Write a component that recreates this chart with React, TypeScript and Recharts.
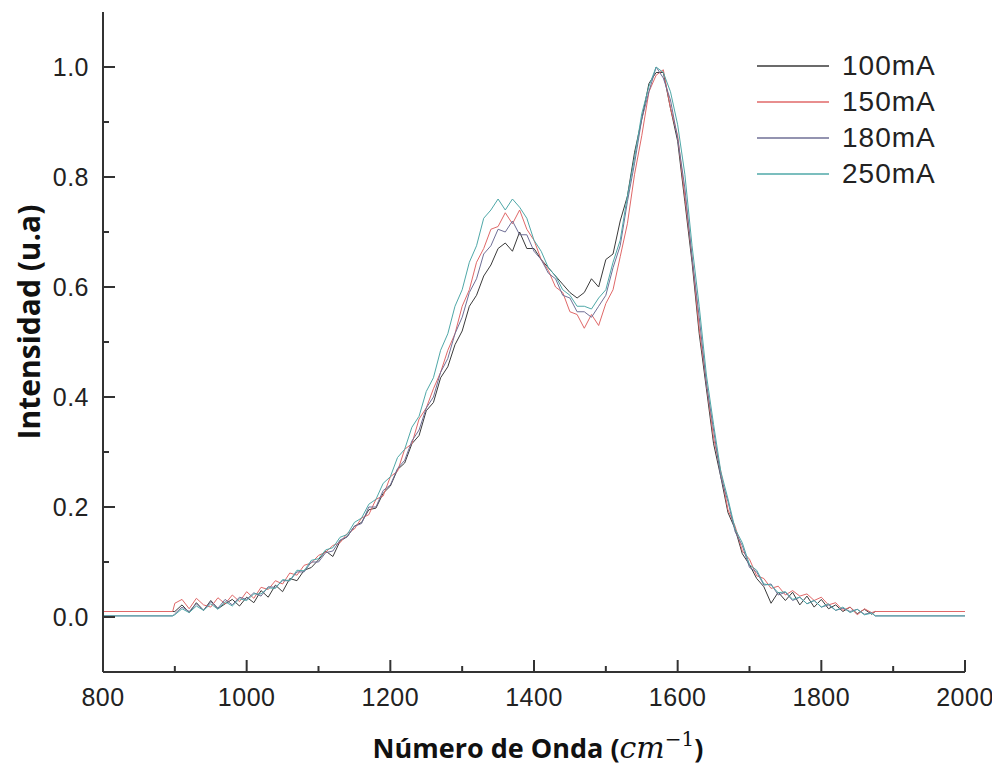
import React from 'react';
import { LineChart, Line, XAxis, YAxis, Legend } from 'recharts';

// Raman spectra, normalised intensity sampled every 10 cm-1 from 900 to 1870
const rangeStart = 900;
const rangeEnd = 1870;
const wavenumbers = Array.from({ length: 98 }, (_, i) => rangeStart + i * 10);

const seriesNames = ['100mA', '150mA', '180mA', '250mA'];
const seriesColors = ['#3a3a3a', '#e06868', '#6f6f96', '#4fa8a8'];
// level of the flat parts outside the measured range
const flatLevels = [0.01, 0.01, 0.002, 0.002];

const i100 = [
  0.01, 0.022, 0.008, 0.026, 0.012, 0.03, 0.015, 0.024, 0.032, 0.02,
  0.036, 0.026, 0.048, 0.036, 0.058, 0.046, 0.07, 0.066, 0.085, 0.09,
  0.104, 0.12, 0.11, 0.138, 0.146, 0.165, 0.172, 0.195, 0.198, 0.225,
  0.238, 0.268, 0.28, 0.315, 0.33, 0.375, 0.39, 0.435, 0.455, 0.495,
  0.52, 0.565, 0.585, 0.62, 0.64, 0.67, 0.68, 0.665, 0.7, 0.67,
  0.67, 0.65, 0.635, 0.62, 0.605, 0.59, 0.58, 0.59, 0.615, 0.6,
  0.65, 0.66, 0.72, 0.765, 0.845, 0.905, 0.97, 0.99, 0.99, 0.925,
  0.865, 0.755, 0.645, 0.515, 0.415, 0.315, 0.255, 0.19, 0.16, 0.115,
  0.095, 0.07, 0.055, 0.025, 0.045, 0.03, 0.045, 0.022, 0.038, 0.018,
  0.032, 0.015, 0.022, 0.01, 0.018, 0.006, 0.014, 0.005,
];

const i150 = [
  0.025, 0.032, 0.015, 0.034, 0.022, 0.018, 0.035, 0.024, 0.04, 0.028,
  0.046, 0.034, 0.054, 0.05, 0.066, 0.06, 0.08, 0.076, 0.094, 0.098,
  0.112, 0.118, 0.13, 0.135, 0.152, 0.16, 0.18, 0.186, 0.214, 0.22,
  0.255, 0.265, 0.305, 0.315, 0.36, 0.38, 0.415, 0.445, 0.485, 0.515,
  0.565, 0.595, 0.645, 0.67, 0.705, 0.71, 0.735, 0.715, 0.74, 0.705,
  0.685, 0.65, 0.63, 0.6, 0.59, 0.555, 0.55, 0.525, 0.55, 0.53,
  0.57, 0.595, 0.655, 0.715, 0.805, 0.875, 0.955, 0.985, 0.995, 0.925,
  0.875, 0.765, 0.655, 0.525, 0.425, 0.325, 0.265, 0.195, 0.165, 0.12,
  0.105, 0.075, 0.07, 0.052, 0.056, 0.04, 0.048, 0.038, 0.042, 0.03,
  0.036, 0.022, 0.026, 0.012, 0.018, 0.004, 0.015, 0.008,
];

const i180 = [
  0.006, 0.018, 0.01, 0.024, 0.012, 0.028, 0.016, 0.032, 0.022, 0.036,
  0.032, 0.044, 0.038, 0.055, 0.054, 0.066, 0.066, 0.082, 0.082, 0.1,
  0.1, 0.117, 0.12, 0.14, 0.146, 0.165, 0.17, 0.2, 0.2, 0.23,
  0.24, 0.27, 0.285, 0.32, 0.34, 0.38, 0.4, 0.445, 0.47, 0.515,
  0.545, 0.59, 0.615, 0.66, 0.675, 0.705, 0.7, 0.72, 0.695, 0.695,
  0.665, 0.65, 0.625, 0.615, 0.585, 0.58, 0.555, 0.555, 0.545, 0.565,
  0.585, 0.635, 0.675, 0.755, 0.825, 0.905, 0.955, 1.0, 0.98, 0.94,
  0.87, 0.78, 0.655, 0.545, 0.425, 0.34, 0.255, 0.21, 0.155, 0.13,
  0.09, 0.082, 0.058, 0.06, 0.04, 0.045, 0.03, 0.036, 0.024, 0.03,
  0.018, 0.022, 0.012, 0.016, 0.01, 0.014, 0.005, 0.008,
];

const i250 = [
  0.004, 0.015, 0.008, 0.02, 0.012, 0.024, 0.014, 0.028, 0.02, 0.033,
  0.03, 0.042, 0.042, 0.053, 0.052, 0.068, 0.066, 0.085, 0.084, 0.103,
  0.106, 0.122, 0.126, 0.145, 0.15, 0.172, 0.18, 0.205, 0.214, 0.243,
  0.255, 0.29, 0.305, 0.345, 0.365, 0.41, 0.435, 0.485, 0.515, 0.565,
  0.595, 0.645, 0.675, 0.725, 0.74, 0.76, 0.74, 0.76, 0.745, 0.725,
  0.685, 0.665, 0.635, 0.62, 0.595, 0.585, 0.565, 0.565, 0.56, 0.58,
  0.595, 0.645, 0.685, 0.765, 0.835, 0.915, 0.965, 1.0, 0.99, 0.955,
  0.895, 0.805, 0.675, 0.565, 0.44, 0.35, 0.265, 0.215, 0.16, 0.135,
  0.095, 0.085, 0.06, 0.058, 0.044, 0.046, 0.032, 0.036, 0.024, 0.03,
  0.018, 0.024, 0.012, 0.018, 0.008, 0.014, 0.004, 0.007,
];

const seriesValues = [i100, i150, i180, i250];

const xTicks = [800, 900, 1000, 1100, 1200, 1300, 1400, 1500, 1600, 1700, 1800, 1900, 2000];
const yTicks = [0, 0.1, 0.2, 0.3, 0.4, 0.5, 0.6, 0.7, 0.8, 0.9, 1.0];

const buildSeries = (values: number[], flat: number) => [
  { x: 800, y: flat },
  { x: rangeStart - 3, y: flat },
  ...values.map((v, i) => ({ x: wavenumbers[i], y: v })),
  { x: rangeEnd + 5, y: flat },
  { x: 2000, y: flat },
];

const axisColor = '#333';
const tickFont = '"Liberation Sans", Arial, sans-serif';
const labelFont = '"Open Sans", "Noto Sans", sans-serif';

const XTick = (props: any) => {
  const { x, y, payload } = props;
  const major = payload.value % 200 === 0;
  return (
    <g>
      <line x1={x} x2={x} y1={y} y2={y - (major ? 12 : 6)} stroke={axisColor} strokeWidth={2} />
      {major && (
        <text x={x} y={y + 34} textAnchor="middle" fontFamily={tickFont} fontSize={25} fill="#222" letterSpacing={0.5}>
          {payload.value}
        </text>
      )}
    </g>
  );
};

const YTick = (props: any) => {
  const { x, y, payload } = props;
  const major = Math.round(payload.value * 10) % 2 === 0;
  return (
    <g>
      <line x1={x} x2={x + (major ? 12 : 6)} y1={y} y2={y} stroke={axisColor} strokeWidth={2} />
      {major && (
        <text x={x - 14} y={y + 9} textAnchor="end" fontFamily={tickFont} fontSize={25} fill="#222" letterSpacing={0.5}>
          {payload.value.toFixed(1)}
        </text>
      )}
    </g>
  );
};

const renderLegend = () => (
  <div>
    {seriesNames.map((name, i) => (
      <div key={name} style={{ display: 'flex', alignItems: 'center', height: 36 }}>
        <svg width={85} height={4}>
          <line x1={0} x2={72} y1={2} y2={2} stroke={seriesColors[i]} strokeWidth={1.5} />
        </svg>
        <span style={{ fontFamily: tickFont, fontSize: 28, letterSpacing: 1, color: '#222', lineHeight: '36px' }}>{name}</span>
      </div>
    ))}
  </div>
);

export default function App() {
  return (
    <div>
      <style>{'.recharts-surface { overflow: visible; }'}</style>
      <LineChart width={984} height={761} margin={{ top: 4, right: 27, bottom: 37, left: 0 }}>
        <XAxis
          dataKey="x"
          type="number"
          domain={[800, 2000]}
          ticks={xTicks}
          tickSize={0}
          tickMargin={0}
          tickLine={false}
          tick={<XTick />}
          height={60}
          axisLine={{ stroke: axisColor, strokeWidth: 2 }}
          allowDuplicatedCategory={false}
          label={(p: any) => {
            const vb = p.viewBox;
            return (
              <text x={vb.x + vb.width / 2 + 4} y={vb.y + 86} textAnchor="middle" fontFamily={labelFont} fontWeight={700} fontSize={27} fill="#111">
                <tspan>Número de Onda (</tspan>
                <tspan fontFamily='"DejaVu Serif", serif' fontStyle="italic" fontWeight={400} fontSize={30}>cm</tspan>
                <tspan fontFamily='"DejaVu Serif", serif' fontWeight={400} fontSize={20} dy={-12}>−1</tspan>
                <tspan dy={12}>)</tspan>
              </text>
            );
          }}
        />
        <XAxis xAxisId="top" orientation="top" type="number" domain={[800, 2000]} height={0} tick={false} tickLine={false} axisLine={{ stroke: axisColor, strokeWidth: 2 }} />
        <YAxis
          type="number"
          domain={[-0.1, 1.1]}
          ticks={yTicks}
          tickSize={0}
          tickMargin={0}
          tickLine={false}
          tick={<YTick />}
          width={95}
          axisLine={{ stroke: axisColor, strokeWidth: 2 }}
          label={() => {
            const cx = 20;
            const cy = 314;
            return (
              <text x={cx} y={cy} transform={`rotate(-90 ${cx} ${cy})`} textAnchor="middle" dominantBaseline="central" fontFamily={labelFont} fontWeight={700} fontSize={30} fill="#111">
                Intensidad (u.a)
              </text>
            );
          }}
        />
        <YAxis yAxisId="right" orientation="right" type="number" domain={[-0.1, 1.1]} width={0} tick={false} tickLine={false} axisLine={{ stroke: axisColor, strokeWidth: 2 }} />
        <Legend
          layout="horizontal"
          verticalAlign="middle"
          align="center"
          content={renderLegend}
          wrapperStyle={{ left: 749, top: 40, width: 230, height: 150 }}
        />
        {seriesNames.map((name, i) => (
          <Line
            key={name}
            name={name}
            data={buildSeries(seriesValues[i], flatLevels[i])}
            dataKey="y"
            type="linear"
            stroke={seriesColors[i]}
            strokeWidth={1}
            dot={false}
            isAnimationActive={false}
          />
        ))}
      </LineChart>
    </div>
  );
}
